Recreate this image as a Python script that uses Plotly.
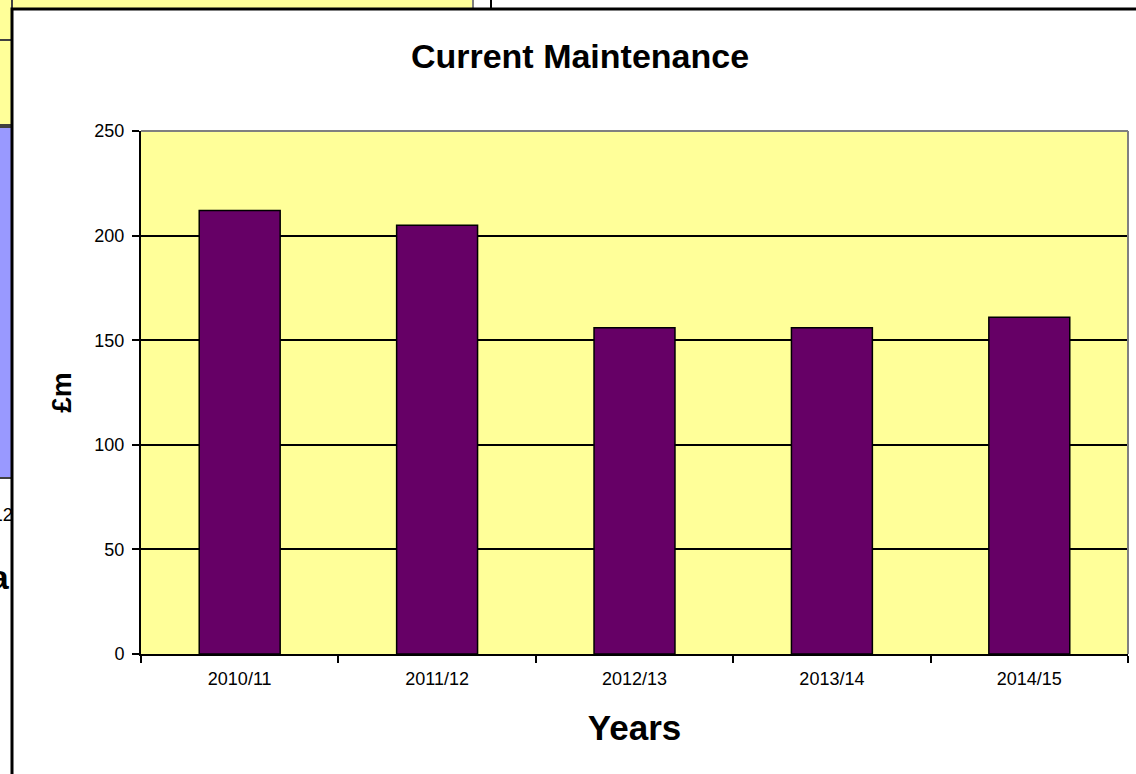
import plotly.graph_objects as go

# ---- data ----
years = ["2010/11", "2011/12", "2012/13", "2013/14", "2014/15"]
maintenance_gbp_m = [212, 205, 156, 156, 161]
y_ticks = [0, 50, 100, 150, 200, 250]

W, H = 1136, 774
L, R, T, B = 141, 8, 131, 120
PW, PH = W - L - R, H - T - B


def px(x):
    return (x - L) / PW


def py(y):
    return (H - B - y) / PH


fig = go.Figure()
fig.add_trace(go.Bar(
    x=years, y=maintenance_gbp_m,
    marker=dict(color="#660066", line=dict(color="#000000", width=1.5)),
    width=0.41,
))

shapes = [
    # background fragments of other charts (outside the chart frame)
    dict(type="rect", xref="paper", yref="paper", x0=px(-10), x1=px(473), y0=py(-10), y1=py(9),
         fillcolor="#FFFF99", line=dict(color="#808080", width=2), layer="below"),
    dict(type="rect", xref="paper", yref="paper", x0=px(-10), x1=px(12), y0=py(-10), y1=py(125),
         fillcolor="#FFFF99", line=dict(color="#404040", width=2), layer="below"),
    dict(type="line", xref="paper", yref="paper", x0=px(-10), x1=px(12), y0=py(40), y1=py(40),
         line=dict(color="#404040", width=2), layer="below"),
    dict(type="rect", xref="paper", yref="paper", x0=px(-10), x1=px(12), y0=py(127), y1=py(478),
         fillcolor="#9999FF", line=dict(color="#404040", width=2), layer="below"),
    dict(type="line", xref="paper", yref="paper", x0=px(491), x1=px(491), y0=py(-5), y1=py(9),
         line=dict(color="#000000", width=2), layer="below"),
    # chart frame
    dict(type="rect", xref="paper", yref="paper", x0=px(12), x1=px(1160), y0=py(9), y1=py(800),
         fillcolor="rgba(0,0,0,0)", line=dict(color="#000000", width=3), layer="above"),
    # plot area border (top/right grey)
    dict(type="line", xref="paper", yref="paper", x0=0, x1=1, y0=1, y1=1,
         line=dict(color="#808080", width=2), layer="above"),
    dict(type="line", xref="paper", yref="paper", x0=1, x1=1, y0=0, y1=1,
         line=dict(color="#808080", width=2), layer="above"),
]

annotations = [
    dict(text="2011/12", xref="paper", yref="paper", x=px(15), y=py(515), xanchor="right", yanchor="middle",
         showarrow=False, font=dict(family="Arial", size=18, color="#000000")),
    dict(text="<b>Yea</b>", xref="paper", yref="paper", x=px(12), y=py(577), xanchor="right", yanchor="middle",
         showarrow=False, font=dict(family="Arial", size=34, color="#000000")),
]

fig.update_layout(
    width=W, height=H,
    margin=dict(l=L, r=R, t=T, b=B),
    paper_bgcolor="#FFFFFF",
    plot_bgcolor="#FFFF99",
    showlegend=False,
    bargap=0.59,
    title=dict(text="<b>Current Maintenance</b>", xref="container", yref="container",
               x=580 / W, y=1 - 56 / H, xanchor="center", yanchor="middle",
               font=dict(family="Arial", size=34, color="#000000")),
    shapes=shapes,
    annotations=annotations,
)

fig.update_xaxes(
    type="category",
    showgrid=False,
    showline=True, linecolor="#000000", linewidth=2,
    ticks="outside", tickson="boundaries", ticklen=7, tickcolor="#000000", tickwidth=2,
    ticklabelstandoff=7,
    tickfont=dict(family="Arial", size=18, color="#000000"),
    title=dict(text="<b>Years</b>", font=dict(family="Arial", size=35, color="#000000"), standoff=28),
)
fig.update_yaxes(
    range=[0, 250],
    tickvals=y_ticks,
    showgrid=True, gridcolor="#000000", gridwidth=1.5,
    zeroline=False,
    showline=True, linecolor="#000000", linewidth=2,
    ticks="outside", ticklen=7, tickcolor="#000000", tickwidth=2,
    ticklabelstandoff=4,
    tickfont=dict(family="Arial", size=18, color="#000000"),
    title=dict(text="<b>£m</b>", font=dict(family="Arial", size=28, color="#000000"), standoff=15),
)

fig.write_html(
    "out.html",
    config={"displayModeBar": False},
    post_script="document.body.style.margin='0';document.body.style.overflow='hidden';",
)
